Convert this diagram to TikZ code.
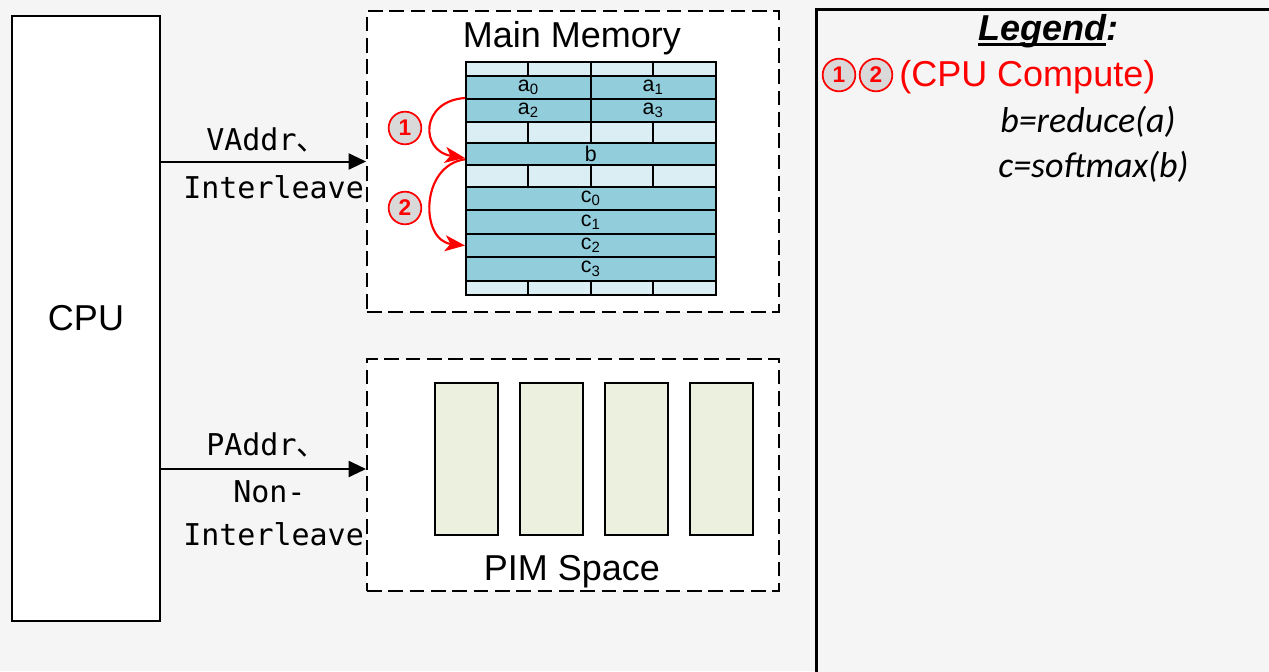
\documentclass[tikz,border=0pt]{standalone}
\usepackage{fontspec}
\setmainfont{Liberation Sans}
\newfontfamily\monofont{DejaVu Sans Mono}
\newfontfamily\cjkfont{Noto Sans CJK SC}
\newfontfamily\calfont{Carlito}
\usetikzlibrary{arrows.meta,calc}
\definecolor{bg}{HTML}{F5F5F5}
\definecolor{cdark}{HTML}{92CDDC}
\definecolor{clight}{HTML}{DAEEF3}
\definecolor{cpim}{HTML}{EBF1DE}
\definecolor{cgray}{HTML}{D9D9D9}
\newcommand\legul[1]{\setbox0\hbox{#1}\rlap{\rule[-4.5pt]{\wd0}{2.4pt}}\box0}
\begin{document}
\begin{tikzpicture}[x=0.75pt,y=-0.75pt,
  box/.style={draw, line width=1.2pt, fill=white, inner sep=0},
  dbox/.style={draw, line width=1.5pt, dash pattern=on 11pt off 5pt, fill=white, inner sep=0},
  cellL/.style={draw, line width=1.5pt, fill=clight, inner sep=0, anchor=north west},
  cellD/.style={draw, line width=1.5pt, fill=cdark, inner sep=0, anchor=north west, font=\fontsize{16}{16}\selectfont},
  pimbar/.style={draw, line width=1.4pt, fill=cpim, inner sep=0, minimum width=47.25pt, minimum height=114pt},
  big/.style={font=\fontsize{27}{32}\selectfont, inner sep=0},
  addr/.style={font=\monofont\fontsize{22.5}{27}\selectfont, inner sep=0, anchor=base west},
  num/.style={circle, draw=red, line width=1.3pt, fill=cgray, text=red, font=\bfseries\fontsize{17}{17}\selectfont, minimum size=24.5pt, inner sep=0},
  redarrow/.style={red, line width=1.6pt, -{Stealth[length=15pt,width=12pt,inset=4pt]}},
  blackarrow/.style={line width=1.5pt, -{Triangle[length=13pt,width=12pt]}},
  formula/.style={font=\calfont\itshape\fontsize{27}{32}\selectfont, inner sep=0, anchor=base west}
]
\useasboundingbox (0,0) rectangle (1269,671);
\fill[bg] (0,0) rectangle (1269,671);
\clip (0,0) rectangle (1269,671);

% CPU
\node[box, minimum width=111pt, minimum height=453.75pt] (cpu) at (86,318.5) {};
\node[big] (cputxt) at (86,318) {CPU};

% Main memory box
\node[dbox, minimum width=309pt, minimum height=225.75pt] (mm) at (573,161.5) {};
\node[big, anchor=base] (mmtitle) at (572,47) {Main Memory};

% grid light rows
\foreach \r/\y/\h in {A/61/14,B/121/21,C/164/22,D/280/14}{
  \foreach \i in {0,1,2,3}{
    \node[cellL, minimum width=46.78pt, minimum height=\h*0.75pt] (l\r\i) at ({465+\i*62.375},\y) {};
  }
}
% grid dark rows
\node[cellD, minimum width=93.56pt, minimum height=17.25pt] (a0) at (465,75) {a\textsubscript{0}};
\node[cellD, minimum width=93.56pt, minimum height=17.25pt] (a1) at (589.75,75) {a\textsubscript{1}};
\node[cellD, minimum width=93.56pt, minimum height=17.25pt] (a2) at (465,98) {a\textsubscript{2}};
\node[cellD, minimum width=93.56pt, minimum height=17.25pt] (a3) at (589.75,98) {a\textsubscript{3}};
\node[cellD, minimum width=187.125pt, minimum height=16.5pt] (b) at (465,142) {b};
\node[cellD, minimum width=187.125pt, minimum height=17.25pt] (c0) at (465,186) {c\textsubscript{0}};
\node[cellD, minimum width=187.125pt, minimum height=18pt] (c1) at (465,209) {c\textsubscript{1}};
\node[cellD, minimum width=187.125pt, minimum height=17.25pt] (c2) at (465,233) {c\textsubscript{2}};
\node[cellD, minimum width=187.125pt, minimum height=18pt] (c3) at (465,256) {c\textsubscript{3}};

% red compute arrows
\draw[redarrow] (a2.north west) .. controls +(-45,3) and +(-45,-7) .. ([yshift=-3pt]b.west);
\draw[redarrow] ([yshift=-4pt]b.west) .. controls +(-45,6) and +(-45,-5) .. (c2.west);
\node[num] (n1) at (405,128) {1};
\node[num] (n2) at (405,208) {2};

% PIM space
\node[dbox, minimum width=309pt, minimum height=174pt] (pim) at (573,475) {};
\node[pimbar] (p1) at (466.5,459) {};
\node[pimbar] (p2) at (551.5,459) {};
\node[pimbar] (p3) at (636.5,459) {};
\node[pimbar] (p4) at (721.5,459) {};
\node[big, anchor=base] (pimtitle) at (572,580) {PIM Space};

% CPU arrows
\draw[blackarrow] (cpu.east |- mm.west) -- (mm.west);
\coordinate (pimin) at ([yshift=4.5pt]pim.west);
\draw[blackarrow] (cpu.east |- pimin) -- (pimin);
\node[addr] (v1) at (206,150) {VAddr{\cjkfont 、}};
\node[addr] (v2) at (183,198) {Interleave};
\node[addr] (q1) at (206,455) {PAddr{\cjkfont 、}};
\node[addr] (q2) at (233,502) {Non-};
\node[addr] (q3) at (183,545) {Interleave};

% Legend
\node[draw, line width=2pt, fill=bg, anchor=north west, minimum width=400pt, minimum height=520pt, inner sep=0] (legbox) at (815,8) {};
\node[big, anchor=base west, font=\bfseries\itshape\fontsize{27}{32}\selectfont] (leg) at (978,40) {\legul{Legend}:};
\node[num] (ln1) at (839,75) {1};
\node[num] (ln2) at (876,75) {2};
\node[big, anchor=base west, text=red] (cc) at (899,86) {(CPU Compute)};
\node[formula] (f1) at (1000,132) {b=reduce(a)};
\node[formula] (f2) at (998,177) {c=softmax(b)};
\end{tikzpicture}
\end{document}
